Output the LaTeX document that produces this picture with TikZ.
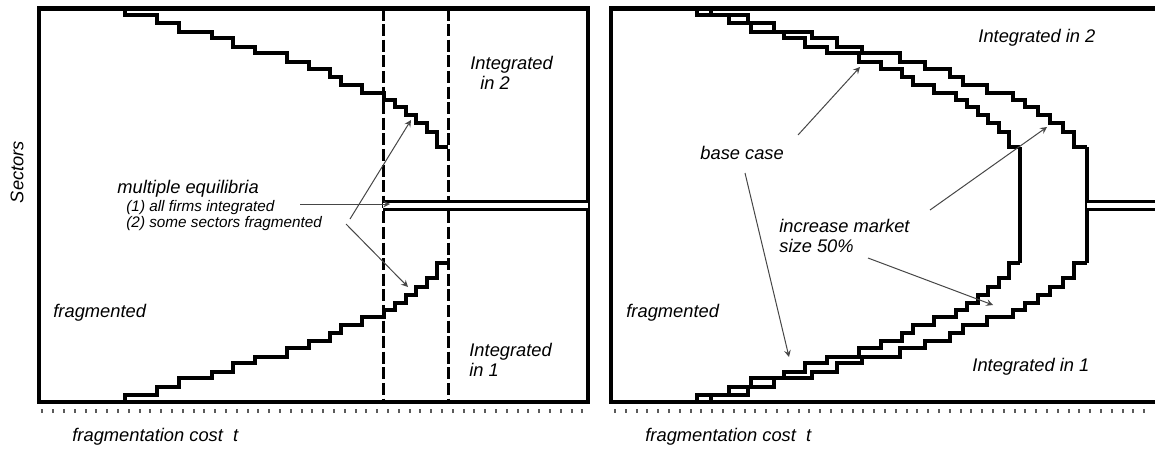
\documentclass[tikz,border=0pt]{standalone}
\usepackage{fontspec}
\setmainfont{Liberation Sans}
\usetikzlibrary{arrows}
\definecolor{pointergray}{RGB}{70,70,70}
\definecolor{tickgray}{RGB}{90,90,90}

\tikzset{
  frame/.style={line width=2.2pt},
  stair/.style={line width=2pt},
  cutoff/.style={line width=1.5pt, dash pattern=on 6pt off 1.8pt},
  twoline/.style={line width=1.5pt, double, double distance=2.5pt},
  pointer/.style={->, >=stealth, pointergray, line width=0.5pt},
  tickmark/.style={tickgray, line width=1pt},
  lbl/.style={inner sep=0pt, anchor=base west, font=\fontsize{9.15}{11}\selectfont\itshape},
  smalllbl/.style={lbl, font=\fontsize{7.65}{9}\selectfont\itshape}
}

% threshold staircase: #1 = x of t=0, #2 = stretch in t,
% #3 = 1 (upper, integrated in 2) or -1 (lower, integrated in 1), #4 = end coordinate
\newcommand{\staircase}[4]{%
  \draw[stair] ({#1+86*#2},{205-(#3)*197})
    \foreach \tx/\hy in {118/190,140/182,173/173,194/167,216/158,248/152,270/143,
                         291/136,302/128,323/120,345/112,356/105,367/98,377/90,
                         388/82,398/73,409/58}
      { |- ({#1+\tx*#2},{205-(#3)*\hy}) } coordinate (#4);
}

\begin{document}
\begin{tikzpicture}[x=0.5pt, y=-0.5pt]
\useasboundingbox (0,0) rectangle (1155,451);

% ---- left panel ----
\draw[frame] (39,8.5) rectangle (588,402);
\staircase{39}{1}{1}{up}
\staircase{39}{1}{-1}{lo}
\draw[cutoff] (383,8.5) -- (383,402);
\draw[cutoff] (448,8.5) -- (448,402);
\coordinate (eqL) at (383,205);
\coordinate (eqR) at (588,205);
\draw[twoline] (eqL) -- (eqR);

\node[rotate=90, inner sep=0pt, font=\fontsize{9.15}{11}\selectfont\itshape] (sectors) at (17,172) {Sectors};
\node[lbl] (fragL) at (53,317.7) {fragmented};
\node[lbl] (inttwoA) at (470,69.5) {Integrated};
\node[lbl] (inttwoB) at (480,89) {in 2};
\node[lbl] (intoneA) at (469,356) {Integrated};
\node[lbl] (intoneB) at (469,376) {in 1};
\node[lbl] (multi) at (117,193) {multiple equilibria};
\node[smalllbl] (allint) at (126,211) {(1) all firms integrated};
\node[smalllbl] (somefrag) at (126,227) {(2) some sectors fragmented};
\node[lbl] (axisL) at (72,441.7) {fragmentation cost~~t};

\coordinate (fromone) at (300,204);
\coordinate (fromtwoU) at (350,219);
\coordinate (fromtwoL) at (346,224);
\coordinate (hitEq) at (390,204);
\coordinate (hitUp) at (411,120);
\coordinate (hitLo) at (408,287);
\draw[pointer] (fromone) -- (hitEq);
\draw[pointer] (fromtwoU) -- (hitUp);
\draw[pointer] (fromtwoL) -- (hitLo);

% ---- right panel ----
\draw[frame] (1155,8.5) -- (611,8.5) -- (611,402) -- (1155,402);
\staircase{611}{1}{1}{baseup}
\staircase{611}{1}{-1}{baselo}
\staircase{611}{1.164}{1}{bigup}
\staircase{611}{1.164}{-1}{biglo}
\draw[stair] (baseup) -- (baselo);
\draw[stair] (bigup) -- (biglo);
\path (bigup) -- (biglo) coordinate[midway] (cut);
\draw[twoline] (cut) -- ++(68,0);

\node[lbl] (fragR) at (626,317.7) {fragmented};
\node[lbl] (inttwoR) at (978,42.7) {Integrated in 2};
\node[lbl] (intoneR) at (972,371) {Integrated in 1};
\node[lbl] (basecase) at (700,159) {base case};
\node[lbl] (incA) at (779,232) {increase market};
\node[lbl] (incB) at (779,252) {size 50\%};
\node[lbl] (axisR) at (645,441.7) {fragmentation cost~~t};

\coordinate (fromBaseU) at (798,135);
\coordinate (fromBaseL) at (745,173);
\coordinate (fromIncU) at (930,210);
\coordinate (fromIncL) at (868,258);
\coordinate (hitBaseU) at (860,67);
\coordinate (hitBaseL) at (789,357);
\coordinate (hitBigU) at (1047,127);
\coordinate (hitBigL) at (993,305);
\draw[pointer] (fromBaseU) -- (hitBaseU);
\draw[pointer] (fromBaseL) -- (hitBaseL);
\draw[pointer] (fromIncU) -- (hitBigU);
\draw[pointer] (fromIncL) -- (hitBigL);

% ---- axis ticks ----
\foreach \i in {0,...,50}
  \draw[tickmark] ({42.3+10.8*\i},409) -- ++(0,4);
\foreach \i in {0,...,49}
  \draw[tickmark] ({615+10.8*\i},409) -- ++(0,4);
\end{tikzpicture}
\end{document}
